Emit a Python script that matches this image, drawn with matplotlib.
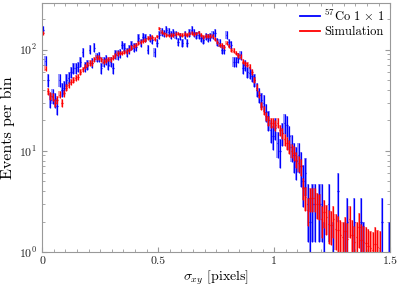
#!/usr/bin/env python3
"""Sigma_xy distribution: 57Co data vs simulation."""

import numpy as np
import matplotlib

matplotlib.use("Agg")
import matplotlib.pyplot as plt
from matplotlib.ticker import MultipleLocator, LogLocator, NullFormatter

plt.rcParams["font.family"] = "serif"
plt.rcParams["font.serif"] = ["cmr10", "DejaVu Serif"]
plt.rcParams["mathtext.fontset"] = "cm"
plt.rcParams["axes.formatter.use_mathtext"] = True

BIN_WIDTH = 0.01
bin_centers = np.arange(150) * BIN_WIDTH + BIN_WIDTH / 2

# measured counts per bin (57Co 1x1), 0 = empty bin
data_counts = [
    158, 78, 50, 32, 35, 32, 28, 50, 40, 42,
    50, 53, 60, 66, 66, 68, 76, 95, 68, 71,
    100, 74, 105, 84, 85, 66, 76, 80, 71, 76,
    66, 90, 89, 92, 112, 105, 95, 100, 110, 105,
    107, 131, 118, 134, 131, 100, 131, 125, 95, 117,
    140, 150, 145, 158, 150, 140, 147, 140, 120, 135,
    117, 140, 117, 147, 158, 147, 138, 140, 131, 125,
    136, 131, 134, 140, 147, 120, 117, 100, 100, 140,
    118, 112, 76, 76, 83, 88, 66, 70, 60, 59,
    55, 50, 40, 36, 32, 30, 24, 20, 16, 14,
    17, 12, 10, 15, 19, 18, 14, 11, 9, 8,
    9, 7, 5, 6, 3, 2, 3, 3, 0, 3,
    3, 1, 0, 3, 0, 1, 0, 4, 0, 0,
    1, 2, 0, 0, 2, 0, 0, 2, 1, 0,
    0, 0, 0, 0, 0, 0, 2, 0, 0, 1,
]

# scaled simulation per bin
sim_counts = [
    147, 65, 39, 35, 34, 30, 32, 36, 30, 37,
    42, 45, 48, 50, 53, 54, 60, 64, 68, 71,
    74, 74, 80, 84, 83, 80, 76, 78, 81, 80,
    83, 88, 92, 93, 93, 95, 96, 100, 105, 108,
    112, 116, 120, 122, 125, 131, 130, 134, 128, 135,
    162, 150, 145, 140, 138, 140, 140, 142, 144, 141,
    139, 142, 140, 144, 146, 143, 145, 148, 140, 134,
    136, 137, 137, 136, 128, 120, 112, 110, 107, 117,
    108, 100, 98, 93, 88, 85, 76, 73, 71, 68,
    60, 50, 42, 36, 28, 25, 22, 20, 19, 19,
    18, 19, 16, 15, 13, 12, 11, 10, 9.5, 8.2,
    7.6, 7.0, 4.3, 3.5, 2.6, 3.4, 3.4, 3.4, 3.0, 2.9,
    2.1, 2.5, 2.2, 1.9, 1.85, 2.1, 1.7, 1.65, 1.47, 1.4,
    1.6, 1.35, 2.1, 1.47, 1.25, 1.4, 1.77, 1.3, 1.25, 1.23,
    1.15, 1.1, 1.05, 1.2, 1.12, 1.1, 0, 0, 0, 0,
]

SIM_SCALE = 0.25  # simulation weight used for its error bars


def draw_series(ax, x, values, errors, color, label):
    """Translucent error boxes plus error bar crosses."""
    keep = values > 0
    x, values, errors = x[keep], values[keep], errors[keep]
    low = np.clip(values - errors, 0.3, None)
    high = values + errors
    ax.bar(x, high - low, bottom=low, width=BIN_WIDTH, color=color,
           alpha=0.4, linewidth=0)
    ax.errorbar(x, values, yerr=[values - low, high - values], xerr=0.003,
                fmt="none", ecolor=color, elinewidth=0.9)
    ax.plot([], [], color=color, lw=1.3, label=label)


def main() -> None:
    data = np.array(data_counts, dtype=float)
    sim = np.array(sim_counts, dtype=float)

    fig = plt.figure(figsize=(4.01, 2.87), dpi=100)
    ax = fig.add_axes([0.105, 0.122, 0.868, 0.868])

    draw_series(ax, bin_centers, data, np.sqrt(data), "#0000ff",
                r"$^{57}$Co 1 $\times$ 1")
    draw_series(ax, bin_centers, sim, np.sqrt(sim * SIM_SCALE), "#ff0000",
                "Simulation")

    ax.set_yscale("log")
    ax.set_xlim(0, 1.5)
    ax.set_ylim(1, 290)
    ax.xaxis.set_minor_locator(MultipleLocator(0.05))
    ax.set_xticks([0, 0.5, 1, 1.5])
    ax.set_xticklabels(["0", "0.5", "1", "1.5"])
    ax.yaxis.set_major_locator(LogLocator(base=10))
    ax.yaxis.set_minor_locator(LogLocator(base=10, subs=np.arange(2, 10)))
    ax.yaxis.set_minor_formatter(NullFormatter())

    for spine in ax.spines.values():
        spine.set_color("#999999")
    ax.tick_params(which="both", direction="in", top=True, right=True,
                   color="#999999", labelsize=8.5, labelcolor="#222222")
    ax.tick_params(which="major", length=3.5)
    ax.tick_params(which="minor", length=2)

    ax.set_xlabel(r"$\sigma_{xy}$ [pixels]", fontsize=10, labelpad=2)
    ax.set_ylabel("Events per bin", fontsize=11.5, labelpad=3)

    ax.legend(loc="upper right", frameon=False, fontsize=9,
              handlelength=1.6, handletextpad=0.3, borderpad=0.2,
              labelspacing=0.2, borderaxespad=0.2)

    fig.savefig("out.png", dpi=100)
    plt.close(fig)


if __name__ == "__main__":
    main()
